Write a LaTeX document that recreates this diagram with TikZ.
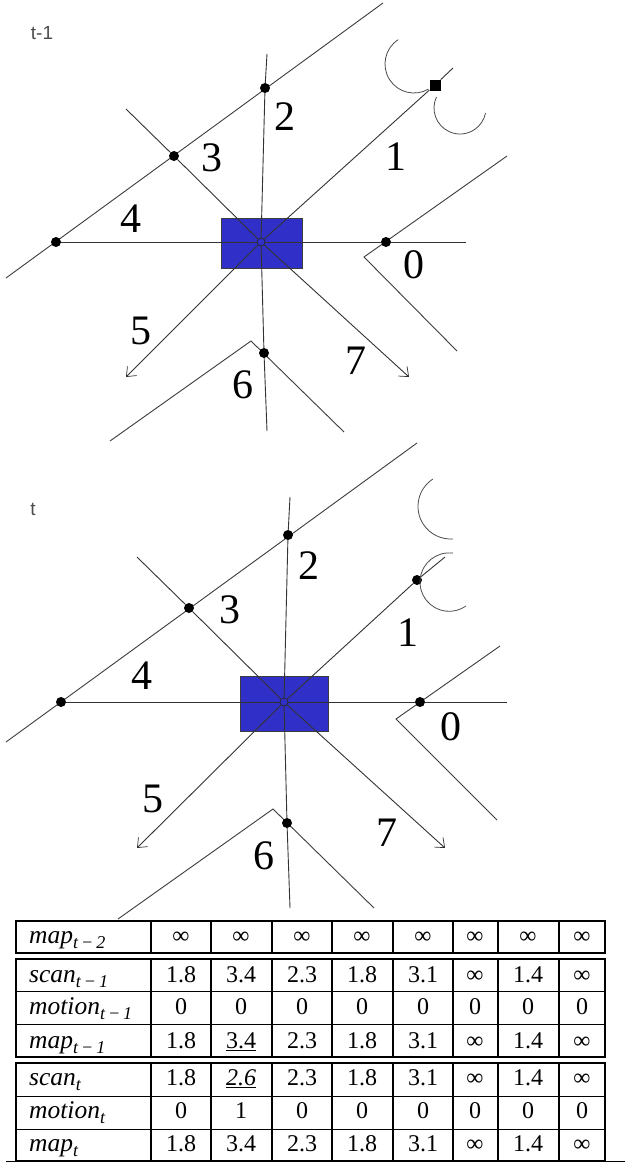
\documentclass[tikz,border=0pt]{standalone}
\usepackage{fontspec}
\setmainfont{Liberation Serif}
\setsansfont{Liberation Sans}
\usepackage{xcolor}
\usetikzlibrary{arrows.meta}
\definecolor{robotblue}{RGB}{48,48,200}
\definecolor{linegray}{RGB}{60,60,60}
\newcommand{\rowlab}[2]{\textit{#1}\raisebox{-5pt}{\fontsize{18}{19}\selectfont\textit{#2}}}
\tikzset{
  wall/.style    = {draw=linegray, line width=0.9pt, line join=miter},
  ray/.style     = {draw=black!80, line width=0.9pt},
  rayhead/.style = {ray, -{Straight Barb[length=8pt,width=13pt,line width=0.7pt]}},
  ghost/.style   = {draw=black!70, line width=0.8pt},
  robot/.style   = {draw=linegray, fill=robotblue, line width=0.7pt, inner sep=0pt},
  hub/.style     = {circle, draw=black!85, fill=robotblue, minimum size=8pt, inner sep=0pt, line width=0.7pt},
  hit/.style     = {circle, fill=black, minimum size=10pt, inner sep=0pt},
  hitsq/.style   = {rectangle, fill=black, minimum size=11pt, inner sep=0pt},
  num/.style     = {font=\fontsize{42}{44}\selectfont, inner sep=0pt},
  stamp/.style   = {font=\sffamily\fontsize{19}{20}\selectfont, text=black!70, inner sep=0pt},
  thickrule/.style = {line width=1.6pt},
  thinrule/.style  = {line width=1pt},
  cell/.style    = {anchor=base, inner sep=0pt, font=\fontsize{24}{26}\selectfont},
  lab/.style     = {anchor=base west, inner sep=0pt, font=\fontsize{25.5}{27}\selectfont},
}
\def\colcenters{{181,241,302,362,423,475,528,582}}
\begin{document}
\begin{tikzpicture}[x=1pt, y=1pt]
  \useasboundingbox (0,0) rectangle (625,-1164);
  \fill[white] (0,0) rectangle (625,-1164);

  % upper scene
  \node[stamp] (stampa) at (42,-33) {t-1};
  \node[robot, minimum width=81pt, minimum height=50pt] (robota) at (261.5,-243) {};
  \node[hub] (huba) at (261,-242) {};
  \coordinate (wtla) at (6,-278);
  \coordinate (wtra) at (383,-3);
  \coordinate (wra) at (507,-156);
  \coordinate (wca) at (364,-257);
  \coordinate (wda) at (457,-351);
  \coordinate (wla) at (110,-441);
  \coordinate (wba) at (251,-341);
  \coordinate (wea) at (344,-432);
  \coordinate (endra) at (466,-242);
  \coordinate (endua) at (267,-54);
  \coordinate (endda) at (267,-431);
  \coordinate (enda) at (453,-68);
  \coordinate (endb) at (126,-109);
  \coordinate (arra) at (126,-377);
  \coordinate (arrb) at (409,-377);
  \draw[wall] (wtla) -- (wtra);
  \draw[wall] (wra) -- (wca) -- (wda);
  \draw[wall] (wla) -- (wba) -- (wea);
  \node[hit] (h0a) at (386,-242) {};
  \node[hitsq] (h1a) at (435,-85) {};
  \node[hit] (h2a) at (265,-88) {};
  \node[hit] (h3a) at (174,-156) {};
  \node[hit] (h4a) at (56,-242) {};
  \node[hit] (h6a) at (264,-353) {};
  \draw[ray] (huba) -- (h0a) -- (endra);
  \draw[ray] (huba) -- (h1a) -- (enda);
  \draw[ray] (huba) -- (h2a) -- (endua);
  \draw[ray] (huba) -- (h3a) -- (endb);
  \draw[ray] (huba) -- (h4a);
  \draw[ray] (huba) -- (h6a) -- (endda);
  \draw[rayhead] (huba) -- (arra);
  \draw[rayhead] (huba) -- (arrb);
  \draw[ghost] ([shift=(123:29pt)]414,-64) arc[start angle=123, end angle=300, radius=29pt];
  \draw[ghost] ([shift=(155:26pt)]460,-108) arc[start angle=155, end angle=349, radius=26pt];
  \node[num] (n0a) at (414,-265) {0};
  \node[num] (n1a) at (396,-157) {1};
  \node[num] (n2a) at (285,-117) {2};
  \node[num] (n3a) at (212,-158) {3};
  \node[num] (n4a) at (131,-219) {4};
  \node[num] (n5a) at (141,-331) {5};
  \node[num] (n6a) at (243,-385) {6};
  \node[num] (n7a) at (356,-361) {7};

  % lower scene
  \node[stamp] (stampb) at (33,-509) {t};
  \node[robot, minimum width=88pt, minimum height=55pt] (robotb) at (284,-703.5) {};
  \node[hub] (hubb) at (284,-702) {};
  \coordinate (wtlb) at (6,-742);
  \coordinate (wtrb) at (417,-443);
  \coordinate (wrb) at (500,-646);
  \coordinate (wcb) at (396,-719);
  \coordinate (wdb) at (497,-820);
  \coordinate (wlb) at (118,-919);
  \coordinate (wbb) at (273,-809);
  \coordinate (web) at (374,-908);
  \coordinate (endrb) at (507,-702);
  \coordinate (endub) at (290,-497);
  \coordinate (enddb) at (290,-908);
  \coordinate (endc) at (445,-557);
  \coordinate (endd) at (137,-557);
  \coordinate (arrc) at (137,-848);
  \coordinate (arrd) at (445,-848);
  \draw[wall] (wtlb) -- (wtrb);
  \draw[wall] (wrb) -- (wcb) -- (wdb);
  \draw[wall] (wlb) -- (wbb) -- (web);
  \node[hit] (h0b) at (420,-702) {};
  \node[hit] (h1b) at (417,-580) {};
  \node[hit] (h2b) at (288,-535) {};
  \node[hit] (h3b) at (189,-608) {};
  \node[hit] (h4b) at (61,-702) {};
  \node[hit] (h6b) at (287,-823) {};
  \draw[ray] (hubb) -- (h0b) -- (endrb);
  \draw[ray] (hubb) -- (h1b) -- (endc);
  \draw[ray] (hubb) -- (h2b) -- (endub);
  \draw[ray] (hubb) -- (h3b) -- (endd);
  \draw[ray] (hubb) -- (h4b);
  \draw[ray] (hubb) -- (h6b) -- (enddb);
  \draw[rayhead] (hubb) -- (arrc);
  \draw[rayhead] (hubb) -- (arrd);
  \draw[ghost] ([shift=(123:32.6pt)]450.6,-506.4) arc[start angle=123, end angle=274, radius=32.6pt];
  \draw[ghost] ([shift=(83:29.2pt)]449.2,-582.1) arc[start angle=83, end angle=305, radius=29.2pt];
  \node[num] (n0b) at (451,-727) {0};
  \node[num] (n1b) at (408,-633) {1};
  \node[num] (n2b) at (309,-566) {2};
  \node[num] (n3b) at (230,-610) {3};
  \node[num] (n4b) at (142,-676) {4};
  \node[num] (n5b) at (153,-799) {5};
  \node[num] (n6b) at (264,-856) {6};
  \node[num] (n7b) at (387,-833) {7};

  % table
  \foreach \ytop/\ybot in {921/953, 959/1057, 1063/1161} {
    \draw[thickrule] (16,-\ytop) rectangle (605,-\ybot);
    \foreach \xline in {151,211,272,332,393,453,498,559}
      \draw[thickrule] (\xline,-\ytop) -- (\xline,-\ybot);
  }
  \foreach \yline in {991,1024,1096,1129}
    \draw[thinrule] (16,-\yline) -- (605,-\yline);
  \draw[thinrule] (6,-1161) -- (625,-1161);
  \foreach \rowid/\ybase/\rowtext/\cells in {
    r/943/{\rowlab{map}{t\,−\,2}}/{∞,∞,∞,∞,∞,∞,∞,∞},
    s/982/{\rowlab{scan}{t\,−\,1}}/{1.8,3.4,2.3,1.8,3.1,∞,1.4,∞},
    m/1014/{\rowlab{motion}{t\,−\,1}}/{0,0,0,0,0,0,0,0},
    p/1048/{\rowlab{map}{t\,−\,1}}/{1.8,\underline{3.4},2.3,1.8,3.1,∞,1.4,∞},
    t/1085/{\rowlab{scan}{t}}/{1.8,\underline{\textit{2.6}},2.3,1.8,3.1,∞,1.4,∞},
    u/1118/{\rowlab{motion}{t}}/{0,1,0,0,0,0,0,0},
    v/1151/{\rowlab{map}{t}}/{1.8,3.4,2.3,1.8,3.1,∞,1.4,∞}} {
    \node[lab] (lab\rowid) at (29,-\ybase) {\rowtext};
    \foreach \val [count=\cc] in \cells {
      \pgfmathsetmacro\xcell{\colcenters[\cc-1]}
      \node[cell] (cell\rowid\cc) at (\xcell,-\ybase) {\val};
    }
  }
\end{tikzpicture}
\end{document}
